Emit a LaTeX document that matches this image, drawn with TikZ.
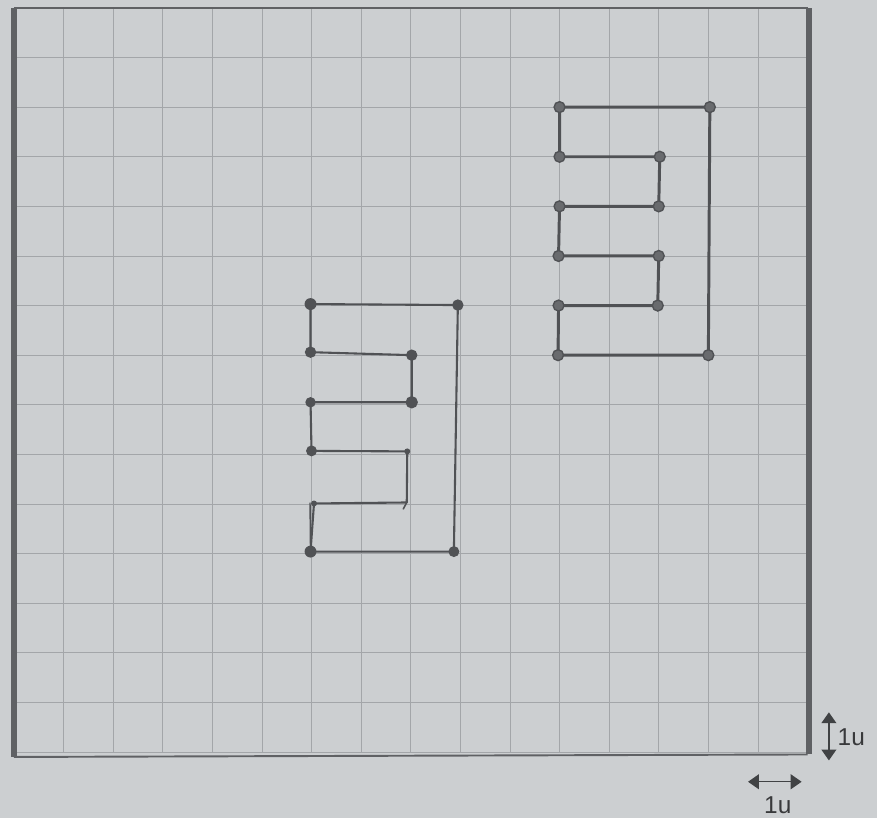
\documentclass[tikz,border=0pt]{standalone}
\usepackage{fontspec}
\setmainfont{Liberation Sans}
\usetikzlibrary{arrows.meta}
\definecolor{paper}{RGB}{204,207,209}
\definecolor{gridc}{RGB}{163,166,169}
\definecolor{ink}{RGB}{80,82,85}
\definecolor{dotfill}{RGB}{105,107,110}
\definecolor{framec}{RGB}{95,97,100}
\begin{document}
\begin{tikzpicture}[x=1cm,y=1cm,
  gridline/.style={draw=gridc, line width=0.45pt},
  framethin/.style={draw=framec, line width=1.1pt},
  framethick/.style={draw=framec, line width=3pt},
  shapeline/.style={draw=ink, line width=1.7pt, line join=round, line cap=round},
  handline/.style={draw=ink, line width=1.2pt, line join=round, line cap=round},
  dotmark/.style={circle, fill=dotfill, draw=ink, line width=0.8pt, inner sep=0pt, minimum size=0.22cm},
  bigdot/.style={circle, fill=ink, inner sep=0pt, minimum size=0.24cm},
  smalldot/.style={circle, fill=ink, inner sep=0pt, minimum size=0.12cm},
  scalearrow/.style={draw=ink!80!black, line width=0.8pt, {Triangle[length=0.22cm,width=0.3cm]}-{Triangle[length=0.22cm,width=0.3cm]}},
  scalelabel/.style={font=\fontsize{14}{16}\selectfont, text=ink!70!black, inner sep=0pt}]
\fill[paper] (-0.28,-1.33) rectangle (17.40,15.16);
\useasboundingbox (-0.28,-1.33) rectangle (17.40,15.16);
% grid
\draw[gridline] (0,0) grid (16,15);
% frame
\draw[framethin] (0,15) -- (16,15);
\draw[framethin] (0,-0.1) -- (16,-0.05);
\draw[framethick] (0,-0.1) -- (0,15);
\draw[framethick] (16.03,-0.05) -- (16.03,15);
% right shape coordinates
\coordinate (r1) at (11,13);
\coordinate (r2) at (14.03,13);
\coordinate (r3) at (14,8);
\coordinate (r4) at (10.97,8);
\coordinate (r5) at (10.98,9);
\coordinate (r6) at (12.98,9);
\coordinate (r7) at (13,10);
\coordinate (r8) at (10.98,10);
\coordinate (r9) at (11,11);
\coordinate (r10) at (13,11);
\coordinate (r11) at (13.02,12);
\coordinate (r12) at (11,12);
\draw[shapeline] (r1) -- (r2) -- (r3) -- (r4) -- (r5) -- (r6) -- (r7) -- (r8) -- (r9) -- (r10) -- (r11) -- (r12) -- cycle;
\foreach \p in {r1,r2,r3,r4,r5,r6,r7,r8,r9,r10,r11,r12}
  \node[dotmark] (d\p) at (\p) {};
% left shape coordinates (hand drawn)
\coordinate (l1) at (5.98,9.03);
\coordinate (l2) at (8.95,9.01);
\coordinate (l3) at (8.87,4.04);
\coordinate (l4) at (5.98,4.04);
\coordinate (l5) at (6.05,5.01);
\coordinate (l6) at (7.92,5.03);
\coordinate (l7) at (7.93,6.06);
\coordinate (l8) at (6.0,6.07);
\coordinate (l9) at (5.98,7.05);
\coordinate (l10) at (8.02,7.05);
\coordinate (l11) at (8.02,8.0);
\coordinate (l12) at (5.98,8.06);
\draw[handline] (l1) -- (l2) -- (l3) -- (l4) -- (l5) -- (l6) -- (l7) -- (l8) -- (l9) -- (l10) -- (l11) -- (l12) -- cycle;
\draw[handline, line width=0.8pt] (l4) -- (5.97,5.02);
\draw[handline, line width=0.9pt] (l6) -- (7.85,4.9);
\node[bigdot] (dl1) at (l1) {};
\node[dotmark, fill=ink, minimum size=0.2cm] (dl2) at (l2) {};
\node[dotmark, fill=ink, minimum size=0.19cm] (dl3) at (l3) {};
\node[bigdot] (dl4) at (l4) {};
\node[smalldot] (dl5) at (l5) {};
\node[smalldot] (dl7) at (l7) {};
\node[dotmark, fill=ink, minimum size=0.19cm] (dl8) at (l8) {};
\node[dotmark, fill=ink, minimum size=0.18cm] (dl9) at (l9) {};
\node[dotmark, fill=ink, minimum size=0.22cm] (dl10) at (l10) {};
\node[dotmark, fill=ink, minimum size=0.2cm] (dl11) at (l11) {};
\node[dotmark, fill=ink, minimum size=0.2cm] (dl12) at (l12) {};
% scale indicators
\coordinate (va) at (16.43,0.8);
\coordinate (vb) at (16.43,-0.17);
\draw[scalearrow] (va) -- (vb);
\node[scalelabel, anchor=west] (vl) at (16.6,0.3) {1u};
\coordinate (ha) at (14.8,-0.6);
\coordinate (hb) at (15.88,-0.6);
\draw[scalearrow] (ha) -- (hb);
\node[scalelabel] (hl) at (15.4,-1.07) {1u};
\end{tikzpicture}
\end{document}
